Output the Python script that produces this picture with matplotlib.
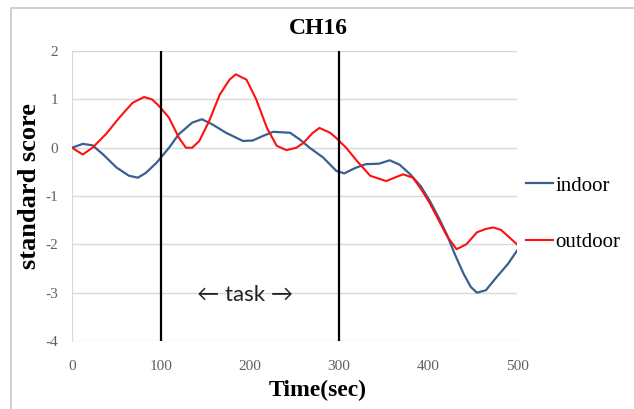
import matplotlib
matplotlib.use("Agg")
import matplotlib.pyplot as plt
from matplotlib.patches import Rectangle

# values
indoor_t = [0, 12, 23, 35, 50, 64, 74, 83, 95, 109, 120, 135, 146, 158, 173, 192, 203,
            214, 226, 245, 256, 267, 282, 297, 306, 318, 330, 345, 357, 368, 380, 392,
            402, 412, 421, 430, 440, 448, 455, 465, 477, 490, 500]
indoor_v = [0, 0.08, 0.05, -0.14, -0.41, -0.58, -0.62, -0.52, -0.31, 0, 0.28, 0.52, 0.59,
            0.48, 0.31, 0.14, 0.15, 0.24, 0.33, 0.31, 0.17, 0.0, -0.2, -0.48, -0.53, -0.42,
            -0.34, -0.33, -0.26, -0.35, -0.55, -0.8, -1.1, -1.45, -1.79, -2.2, -2.61, -2.88,
            -3.0, -2.95, -2.68, -2.4, -2.13]
outdoor_t = [0, 12, 23, 38, 53, 68, 81, 90, 98, 109, 120, 128, 135, 143, 154, 166, 177,
             184, 196, 207, 219, 230, 241, 252, 260, 270, 278, 290, 297, 308, 320, 335,
             353, 365, 372, 383, 392, 402, 412, 421, 432, 443, 455, 465, 473, 482, 488, 500]
outdoor_v = [0, -0.14, 0, 0.28, 0.62, 0.93, 1.05, 1.0, 0.86, 0.62, 0.21, 0, 0, 0.14, 0.55,
             1.1, 1.41, 1.52, 1.41, 1.0, 0.41, 0.04, -0.05, 0.0, 0.1, 0.3, 0.41, 0.31, 0.2,
             0.0, -0.27, -0.58, -0.69, -0.6, -0.55, -0.62, -0.85, -1.15, -1.5, -1.82, -2.1,
             -2.0, -1.75, -1.68, -1.65, -1.7, -1.8, -2.0]
task_bounds = [100, 300]
x_ticks = [0, 100, 200, 300, 400, 500]
y_ticks = [-4, -3, -2, -1, 0, 1, 2]

serif = "Liberation Serif"
plt.rcParams["axes.unicode_minus"] = False

fig = plt.figure(figsize=(6.34, 4.09), dpi=100)
ax = fig.add_axes([0.1136, 0.1663, 0.7019, 0.7087])

# outer frame of the picture
fig.patches.append(Rectangle((11 / 634, -0.05), 1.1, 1 - 8 / 409 + 0.05,
                             transform=fig.transFigure, fill=False,
                             edgecolor="#c8c8c8", linewidth=1.2))

ax.plot(indoor_t, indoor_v, color="#3a5f92", lw=1.6, label="indoor", zorder=3)
ax.plot(outdoor_t, outdoor_v, color="#ff1010", lw=1.5, label="outdoor", zorder=3)
for b in task_bounds:
    ax.axvline(b, color="black", lw=1.6, zorder=4)

ax.set_xlim(0, 500)
ax.set_ylim(-4, 2)
ax.set_xticks(x_ticks)
ax.set_yticks(y_ticks)
ax.grid(axis="y", color="#d9d9d9", lw=1)
ax.set_axisbelow(True)
for s in ["top", "right", "bottom"]:
    ax.spines[s].set_visible(False)
ax.spines["left"].set_color("#d9d9d9")
ax.tick_params(length=0, labelsize=11, labelcolor="#606060", pad=10)
for lab in ax.get_xticklabels() + ax.get_yticklabels():
    lab.set_family(serif)
ax.tick_params(axis="x", pad=14)

ax.text(194, -3.05, "← task →", ha="center", va="center", fontsize=16,
        family=["Lato", "DejaVu Sans"], color="#222222")

fig.text(318 / 634, 1 - 29 / 409, "CH16", ha="center", va="center",
         family=serif, fontweight="bold", fontsize=17)
fig.text(318 / 634, 1 - 390 / 409, "Time(sec)", ha="center", va="center",
         family=serif, fontweight="bold", fontsize=17)
fig.text(30 / 634, 1 - 186 / 409, "standard score", ha="center", va="center",
         rotation=90, family=serif, fontweight="bold", fontsize=19)

ax.legend(loc="center left", bbox_to_anchor=(526 / 634, 1 - 214 / 409),
          bbox_transform=fig.transFigure, frameon=False, borderpad=0,
          borderaxespad=0, handlelength=1.3, handletextpad=0.1, labelspacing=1.75,
          prop={"family": serif, "size": 15})

fig.savefig("out.png", dpi=100)
